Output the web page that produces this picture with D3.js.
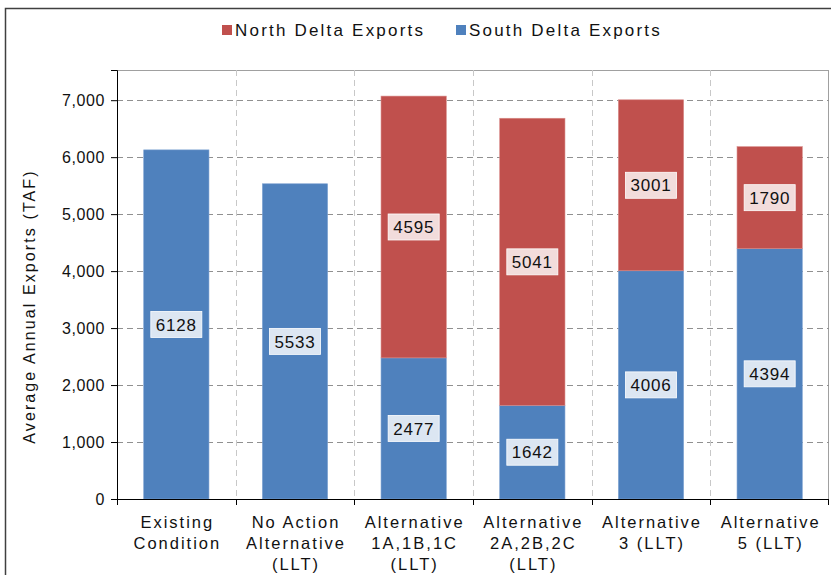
<!DOCTYPE html>
<html>
<head>
<meta charset="utf-8">
<script src="https://cdn.jsdelivr.net/npm/d3@7"></script>
<style>
  body { margin: 0; background: #fff; font-family: "Liberation Sans", Arial, sans-serif; }
  svg text { font-family: "Liberation Sans", Arial, sans-serif; }
</style>
</head>
<body>
<div id="chart"></div>
<script>
// categories as multi-line labels
var categories = [
  ["Existing", "Condition"],
  ["No Action", "Alternative", "(LLT)"],
  ["Alternative", "1A,1B,1C", "(LLT)"],
  ["Alternative", "2A,2B,2C", "(LLT)"],
  ["Alternative", "3 (LLT)"],
  ["Alternative", "5 (LLT)"]
];
var southDelta = [6128, 5533, 2477, 1642, 4006, 4394];
var northDelta = [0, 0, 4595, 5041, 3001, 1790];
var yTicks = [0, 1000, 2000, 3000, 4000, 5000, 6000, 7000];
var seriesNames = ["North Delta Exports", "South Delta Exports"];

var colors = { north: "#c0504d", south: "#4f81bd" };
var labelFill = { north: "#f2dcdb", south: "#dce6f2" };

var W = 831, H = 575;
var margin = { top: 70, right: 2, bottom: 76, left: 117 };
var width = W - margin.left - margin.right,
    height = H - margin.top - margin.bottom;

var svg = d3.select("#chart").append("svg")
    .attr("width", W).attr("height", H);

// outer chart frame
svg.append("rect")
    .attr("x", 5.5).attr("y", 8.5)
    .attr("width", W + 10).attr("height", H + 10)
    .attr("fill", "none").attr("stroke", "#404040").attr("stroke-width", 1.5);

var g = svg.append("g").attr("transform", "translate(" + margin.left + "," + margin.top + ")");

var idx = d3.range(categories.length);
var x = d3.scaleBand().domain(idx).range([0, width]).paddingInner(0).paddingOuter(0);
var y = d3.scaleLinear().domain([0, 7530]).range([height, 0]);

// plot border
g.append("rect")
    .attr("x", 0.5).attr("y", 0.5)
    .attr("width", width - 1).attr("height", height)
    .attr("fill", "none").attr("stroke", "#a0a0a0");

// horizontal dashed grid
g.selectAll(".hgrid").data(yTicks.slice(1)).enter().append("line")
    .attr("class", "hgrid")
    .attr("x1", 0).attr("x2", width)
    .attr("y1", d => Math.round(y(d)) + 0.5).attr("y2", d => Math.round(y(d)) + 0.5)
    .attr("stroke", "#909090").attr("stroke-dasharray", "6,4");

// vertical dashed grid at category boundaries
g.selectAll(".vgrid").data(idx.slice(1)).enter().append("line")
    .attr("class", "vgrid")
    .attr("x1", d => Math.round(x(d)) + 0.5).attr("x2", d => Math.round(x(d)) + 0.5)
    .attr("y1", 0).attr("y2", height)
    .attr("stroke", "#c8c8c8").attr("stroke-dasharray", "6,4");

// bars
var barW = x.bandwidth() * 0.55;
var bx = i => x(i) + (x.bandwidth() - barW) / 2;

g.selectAll(".south").data(southDelta).enter().append("rect")
    .attr("class", "south")
    .attr("x", (d, i) => bx(i)).attr("width", barW)
    .attr("y", d => y(d)).attr("height", d => y(0) - y(d))
    .attr("fill", colors.south).attr("stroke", "#7fa3d2").attr("stroke-width", 0.6);

g.selectAll(".north").data(northDelta).enter().append("rect")
    .attr("class", "north")
    .attr("x", (d, i) => bx(i)).attr("width", barW)
    .attr("y", (d, i) => y(southDelta[i] + d))
    .attr("height", (d, i) => y(southDelta[i]) - y(southDelta[i] + d))
    .attr("fill", colors.north).attr("stroke", "#d88a88").attr("stroke-width", 0.6);

// value labels
function addLabel(cx, cy, val, key) {
  var lg = g.append("g").attr("transform", "translate(" + cx + "," + cy + ")");
  var t = lg.append("text").text(val)
      .attr("text-anchor", "middle").attr("dy", "0.36em")
      .attr("font-size", 17).attr("letter-spacing", "0.8px").attr("fill", "#111");
  var bb = t.node().getBBox();
  lg.insert("rect", "text")
      .attr("x", -bb.width / 2 - 5).attr("y", -13)
      .attr("width", bb.width + 10).attr("height", 26)
      .attr("fill", labelFill[key]).attr("stroke", "#ffffff").attr("stroke-width", 0.8);
}
southDelta.forEach(function(d, i) {
  addLabel(x(i) + x.bandwidth() / 2, y(d / 2), d, "south");
});
northDelta.forEach(function(d, i) {
  if (d > 0) addLabel(x(i) + x.bandwidth() / 2, y(southDelta[i] + d / 2), d, "north");
});

// y axis
var yAxis = d3.axisLeft(y).tickValues(yTicks).tickSize(6).tickPadding(6)
    .tickFormat(d3.format(","));
var ya = g.append("g").call(yAxis);
ya.select(".domain").attr("stroke", "#000");
ya.selectAll(".tick line").attr("stroke", "#000");
ya.selectAll(".tick text").attr("font-size", 16).attr("letter-spacing", "0.6px").attr("fill", "#111");

// x axis
g.append("line").attr("x1", 0).attr("x2", width)
    .attr("y1", height + 0.5).attr("y2", height + 0.5).attr("stroke", "#000");
g.selectAll(".xtick").data(idx.concat([categories.length])).enter().append("line")
    .attr("x1", d => (d < categories.length ? Math.round(x(d)) : width - 1) + 0.5)
    .attr("x2", d => (d < categories.length ? Math.round(x(d)) : width - 1) + 0.5)
    .attr("y1", height).attr("y2", height + 6).attr("stroke", "#000");

categories.forEach(function(lines, i) {
  var t = g.append("text")
      .attr("text-anchor", "middle").attr("font-size", 16.5).attr("letter-spacing", "2px")
      .attr("fill", "#111")
      .attr("transform", "translate(" + (x(i) + x.bandwidth() / 2 + 1) + "," + (height + 29) + ")");
  lines.forEach(function(l, k) {
    t.append("tspan").attr("x", 0).attr("dy", k === 0 ? 0 : 21).text(l);
  });
});

// y title
svg.append("text")
    .attr("transform", "translate(35," + (margin.top + height / 2 + 22) + ") rotate(-90)")
    .attr("text-anchor", "middle").attr("font-size", 16).attr("letter-spacing", "2.1px")
    .attr("fill", "#111")
    .text("Average Annual Exports (TAF)");

// legend
var legend = svg.append("g").attr("transform", "translate(222,30)");
var legendItems = [
  { name: seriesNames[0], color: colors.north, x: 0 },
  { name: seriesNames[1], color: colors.south, x: 234 }
];
legendItems.forEach(function(it) {
  legend.append("rect").attr("x", it.x).attr("y", -5).attr("width", 10).attr("height", 10)
      .attr("fill", it.color);
  legend.append("text").attr("x", it.x + 13).attr("y", 0).attr("dy", "0.36em")
      .attr("font-size", 17).attr("letter-spacing", "2.2px").attr("fill", "#111").text(it.name);
});
</script>
</body>
</html>
